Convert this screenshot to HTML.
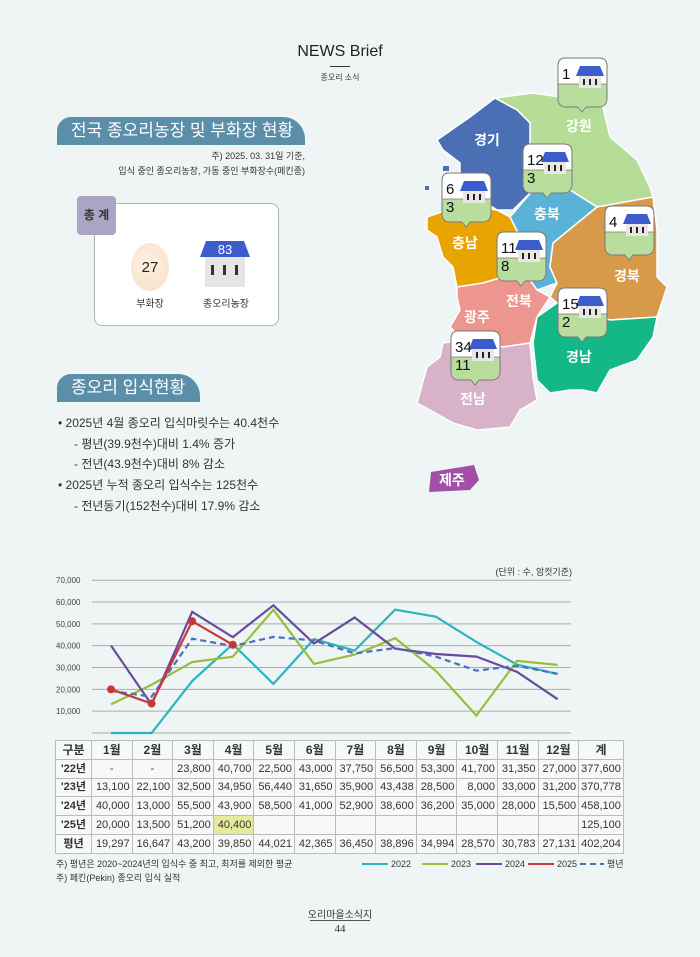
<!DOCTYPE html>
<html><head><meta charset="utf-8">
<style>
*{margin:0;padding:0;box-sizing:border-box}
body{width:700px;height:957px;background:#eef5f4;font-family:"Liberation Sans","Noto Sans CJK KR",sans-serif;position:relative;overflow:hidden;color:#333}
.a{position:absolute;white-space:nowrap}
.pill{position:absolute;background:#5b8fa9;color:#fff;font-size:17px;line-height:28px;padding-left:14px;border-radius:14px 22px 0 0}
.b{font-size:12px;color:#333}
table{position:absolute;left:55px;top:740px;border-collapse:collapse;font-size:11px;color:#333;background:#f6f9f8}
td{border:1px solid #b8bcbc;height:18.8px;line-height:16px;text-align:right;padding:0 2px;width:40.6px}
td:first-child{width:36px;text-align:center;font-weight:bold}
tr:first-child td{text-align:center;font-weight:bold;font-size:12px}
td.t{width:44px}
.lbl{position:absolute;color:#fff;font-weight:bold;font-size:14px}
</style></head><body>
<div class="a" style="left:0;width:680px;top:43px;text-align:center;font-size:16px;color:#222">NEWS Brief</div>
<div class="a" style="left:330px;top:66px;width:20px;height:1px;background:#333"></div>
<div class="a" style="left:0;width:680px;top:72px;text-align:center;font-size:8px">종오리 소식</div>

<div class="pill" style="left:57px;top:117px;width:248px;height:28px">전국 종오리농장 및 부화장 현황</div>
<div class="a" style="right:395px;top:149px;font-size:9px;text-align:right">주) 2025. 03. 31일 기준,</div>
<div class="a" style="right:395px;top:164px;font-size:9px;text-align:right">입식 중인 종오리농장, 가동 중인 부화장수(페킨종)</div>

<div class="a" style="left:94px;top:203px;width:185px;height:123px;background:#fff;border:1.5px solid #b0b4b6;border-radius:8px"></div>
<div class="a" style="left:77px;top:196px;width:39px;height:39px;background:#aaa5c4;border-radius:4px;font-size:12px;font-weight:bold;text-align:center;line-height:39px;color:#333">총 계</div>
<div class="a" style="left:131px;top:243px;width:38px;height:48px;border-radius:50%;background:radial-gradient(circle at 40% 40%,#fdf0e2,#f8dfc4)"></div>
<div class="a" style="left:131px;top:259px;width:38px;text-align:center;font-size:15px;color:#222">27</div>
<div class="a" style="left:120px;top:295px;width:60px;text-align:center;font-size:10px">부화장</div>
<svg class="a" style="left:200px;top:241px" width="52" height="48"><polygon points="6,0 44,0 50,16 0,16" fill="#3c5bcc"/><text x="25" y="13" font-size="13" fill="#fff" text-anchor="middle" font-family="Liberation Sans">83</text><rect x="5" y="16" width="40" height="30" fill="#e7e5e4"/><rect x="11" y="24" width="3" height="10" fill="#333"/><rect x="23" y="24" width="3" height="10" fill="#333"/><rect x="35" y="24" width="3" height="10" fill="#333"/></svg>
<div class="a" style="left:196px;top:295px;width:60px;text-align:center;font-size:10px">종오리농장</div>

<div class="pill" style="left:57px;top:374px;width:143px;height:28px">종오리 입식현황</div>
<div class="a b" style="left:58px;top:414px">• 2025년 4월 종오리 입식마릿수는 40.4천수</div>
<div class="a b" style="left:74px;top:435px">- 평년(39.9천수)대비 1.4% 증가</div>
<div class="a b" style="left:74px;top:455px">- 전년(43.9천수)대비 8% 감소</div>
<div class="a b" style="left:58px;top:476px">• 2025년 누적 종오리 입식수는 125천수</div>
<div class="a b" style="left:74px;top:497px">- 전년동기(152천수)대비 17.9% 감소</div>

<svg class="a" style="left:0;top:0" width="700" height="520" id="map">
<polygon points="495,98 533,93 560,97 583,90 603,107 610,137 637,160 650,187 653,197 597,207 570,190 533,190 530,167 530,123 517,110" fill="#b5dd98" stroke="#fff" stroke-width="1.5"/>
<polygon points="495,98 517,110 530,123 530,167 533,190 513,210 497,210 477,197 460,177 460,163 443,150 437,140 470,117" fill="#4a6fb5" stroke="#fff" stroke-width="1.5"/>
<polygon points="533,190 570,190 597,207 553,243 550,267 557,283 537,290 530,280 537,263 520,237 510,217" fill="#5ab3d6" stroke="#fff" stroke-width="1.5"/>
<polygon points="427,217 447,210 477,207 497,210 510,217 520,237 507,250 503,277 483,283 457,287 453,267 443,257 437,237 427,230" fill="#e8a400" stroke="#fff" stroke-width="1.5"/>
<polygon points="457,287 483,283 503,277 530,280 537,290 550,297 537,317 530,343 503,347 463,340 450,327 460,310 457,297" fill="#ec968f" stroke="#fff" stroke-width="1.5"/>
<polygon points="597,207 653,197 657,230 657,277 667,287 657,317 610,320 557,303 550,297 557,283 550,267 553,243" fill="#d69a4a" stroke="#fff" stroke-width="1.5"/>
<polygon points="557,303 610,320 657,317 653,337 637,360 610,370 597,393 583,390 570,390 550,393 537,380 533,343 537,317" fill="#13b886" stroke="#fff" stroke-width="1.5"/>
<polygon points="443,343 463,340 503,347 530,343 533,377 537,400 520,410 510,427 477,430 453,423 430,410 417,403 427,367 440,357" fill="#d8b2c8" stroke="#fff" stroke-width="1.5"/>
<polygon points="431,472 474,465 479,480 470,490 429,492" fill="#a24fa8"/>
<rect x="443" y="166" width="6" height="5" fill="#4a6fb5"/><rect x="425" y="186" width="4" height="4" fill="#4a6fb5"/>
</svg>
<div class="lbl" style="left:474px;top:130px">경기</div>
<div class="lbl" style="left:566px;top:116px">강원</div>
<div class="lbl" style="left:534px;top:204px">충북</div>
<div class="lbl" style="left:452px;top:233px">충남</div>
<div class="lbl" style="left:614px;top:266px">경북</div>
<div class="lbl" style="left:506px;top:291px">전북</div>
<div class="lbl" style="left:464px;top:307px">광주</div>
<div class="lbl" style="left:566px;top:347px">경남</div>
<div class="lbl" style="left:460px;top:389px">전남</div>
<div class="lbl" style="left:439px;top:470px">제주</div>
<div id="marks"></div>

<div class="a" style="right:128px;top:565px;font-size:9px">(단위 : 수, 암컷기준)</div>
<svg class="a" style="left:0;top:570px" width="700" height="170" id="ch"></svg>

<table>
<tr><td>구분</td><td>1월</td><td>2월</td><td>3월</td><td>4월</td><td>5월</td><td>6월</td><td>7월</td><td>8월</td><td>9월</td><td>10월</td><td>11월</td><td>12월</td><td class="t">계</td></tr>
<tr><td>'22년</td><td style="text-align:center">-</td><td style="text-align:center">-</td><td>23,800</td><td>40,700</td><td>22,500</td><td>43,000</td><td>37,750</td><td>56,500</td><td>53,300</td><td>41,700</td><td>31,350</td><td>27,000</td><td>377,600</td></tr>
<tr><td>'23년</td><td>13,100</td><td>22,100</td><td>32,500</td><td>34,950</td><td>56,440</td><td>31,650</td><td>35,900</td><td>43,438</td><td>28,500</td><td>8,000</td><td>33,000</td><td>31,200</td><td>370,778</td></tr>
<tr><td>'24년</td><td>40,000</td><td>13,000</td><td>55,500</td><td>43,900</td><td>58,500</td><td>41,000</td><td>52,900</td><td>38,600</td><td>36,200</td><td>35,000</td><td>28,000</td><td>15,500</td><td>458,100</td></tr>
<tr><td>'25년</td><td>20,000</td><td>13,500</td><td>51,200</td><td style="background:#e6ea9c">40,400</td><td></td><td></td><td></td><td></td><td></td><td></td><td></td><td></td><td>125,100</td></tr>
<tr><td>평년</td><td>19,297</td><td>16,647</td><td>43,200</td><td>39,850</td><td>44,021</td><td>42,365</td><td>36,450</td><td>38,896</td><td>34,994</td><td>28,570</td><td>30,783</td><td>27,131</td><td>402,204</td></tr>
</table>
<div class="a" style="left:56px;top:857px;font-size:9px">주) 평년은 2020~2024년의 입식수 중 최고, 최저를 제외한 평균</div>
<div class="a" style="left:56px;top:871px;font-size:9px">주) 페킨(Pekin) 종오리 입식 실적</div>
<svg class="a" style="left:360px;top:857px" width="270" height="14" font-family="Liberation Sans" font-size="9" fill="#333">
<line x1="2" y1="7" x2="28" y2="7" stroke="#2bb5c0" stroke-width="2"/><text x="31" y="10">2022</text>
<line x1="62" y1="7" x2="88" y2="7" stroke="#96bf3c" stroke-width="2"/><text x="91" y="10">2023</text>
<line x1="116" y1="7" x2="142" y2="7" stroke="#6a4b9a" stroke-width="2"/><text x="145" y="10">2024</text>
<line x1="168" y1="7" x2="194" y2="7" stroke="#c8383a" stroke-width="2"/><text x="197" y="10">2025</text>
<line x1="220" y1="7" x2="244" y2="7" stroke="#4a6fc0" stroke-width="2" stroke-dasharray="6,4"/><text x="247" y="10">평년</text>
</svg>

<div class="a" style="left:0;width:680px;top:906px;text-align:center;font-size:10px">오리마을소식지</div>
<div class="a" style="left:310px;top:920px;width:60px;height:1px;background:#555"></div>
<div class="a" style="left:0;width:680px;top:923px;text-align:center;font-size:11px;font-family:'Liberation Serif',serif">44</div>

<script>
var NS="http://www.w3.org/2000/svg";
function el(p,t,a){var e=document.createElementNS(NS,t);for(var k in a)e.setAttribute(k,a[k]);p.appendChild(e);return e;}
var ch=document.getElementById('ch');
function Y(v){return 733-570-v*21.83/10000;}
function X(m){return 111+m*40.6;}
for(var i=0;i<=7;i++){var y=Y(i*10000);el(ch,'line',{x1:92,x2:571,y1:y,y2:y,stroke:'#a7acac','stroke-width':1});
if(i>0){var t=el(ch,'text',{x:56,y:y+3,'font-size':8,fill:'#444','font-family':'Liberation Sans'});t.textContent=(i*10)+',000';}}
var S=[
['#2bb5c0',[0,0,23800,40700,22500,43000,37750,56500,53300,41700,31350,27000],''],
['#96bf3c',[13100,22100,32500,34950,56440,31650,35900,43438,28500,8000,33000,31200],''],
['#6a4b9a',[40000,13000,55500,43900,58500,41000,52900,38600,36200,35000,28000,15500],''],
['#4a6fc0',[19297,16647,43200,39850,44021,42365,36450,38896,34994,28570,30783,27131],'6,4'],
['#c8383a',[20000,13500,51200,40400],'']];
S.forEach(function(s){var p=s[1].map(function(v,i){return X(i)+','+Y(v)}).join(' ');
var a={points:p,fill:'none',stroke:s[0],'stroke-width':2.2};if(s[2])a['stroke-dasharray']=s[2];el(ch,'polyline',a);});
[20000,13500,51200,40400].forEach(function(v,i){el(ch,'circle',{cx:X(i),cy:Y(v),r:4,fill:'#c8383a'});});
var M=[[557,57,'1',''],[522,143,'12','3'],[441,172,'6','3'],[604,205,'4',''],[496,231,'11','8'],[557,287,'15','2'],[450,330,'34','11']];
var mk='';
M.forEach(function(m){var x=m[0],y=m[1];
mk+='<svg class="a" style="left:'+x+'px;top:'+y+'px" width="52" height="58" font-family="Liberation Sans">'+
'<path d="M8,1 H42 Q50,1 50,9 V41 Q50,50 41,50 H29 L25,55 L21,50 H9 Q1,50 1,41 V9 Q1,1 8,1Z" fill="#fff" stroke="#777" stroke-width="1"/>'+
'<path d="M1.5,27 H49.5 V41 Q49.5,49.5 41,49.5 H29 L25,54 L21,49.5 H9 Q1.5,49.5 1.5,41Z" fill="#b8dd9c"/>'+
'<line x1="1.5" y1="27" x2="49.5" y2="27" stroke="#777" stroke-width="0.8"/>'+
'<polygon points="23,9 43,9 47,19 19,19" fill="#3c5bcc"/><rect x="22" y="19" width="22" height="12" fill="#e9e7e6"/>'+
'<rect x="26" y="22" width="2" height="6" fill="#222"/><rect x="32" y="22" width="2" height="6" fill="#222"/><rect x="38" y="22" width="2" height="6" fill="#222"/>'+
'<text x="5" y="22" font-size="15" fill="#111">'+m[2]+'</text>'+
(m[3]?'<text x="5" y="40" font-size="15" fill="#111">'+m[3]+'</text>':'')+'</svg>';});
document.getElementById('marks').innerHTML=mk;
</script>
</body></html>
